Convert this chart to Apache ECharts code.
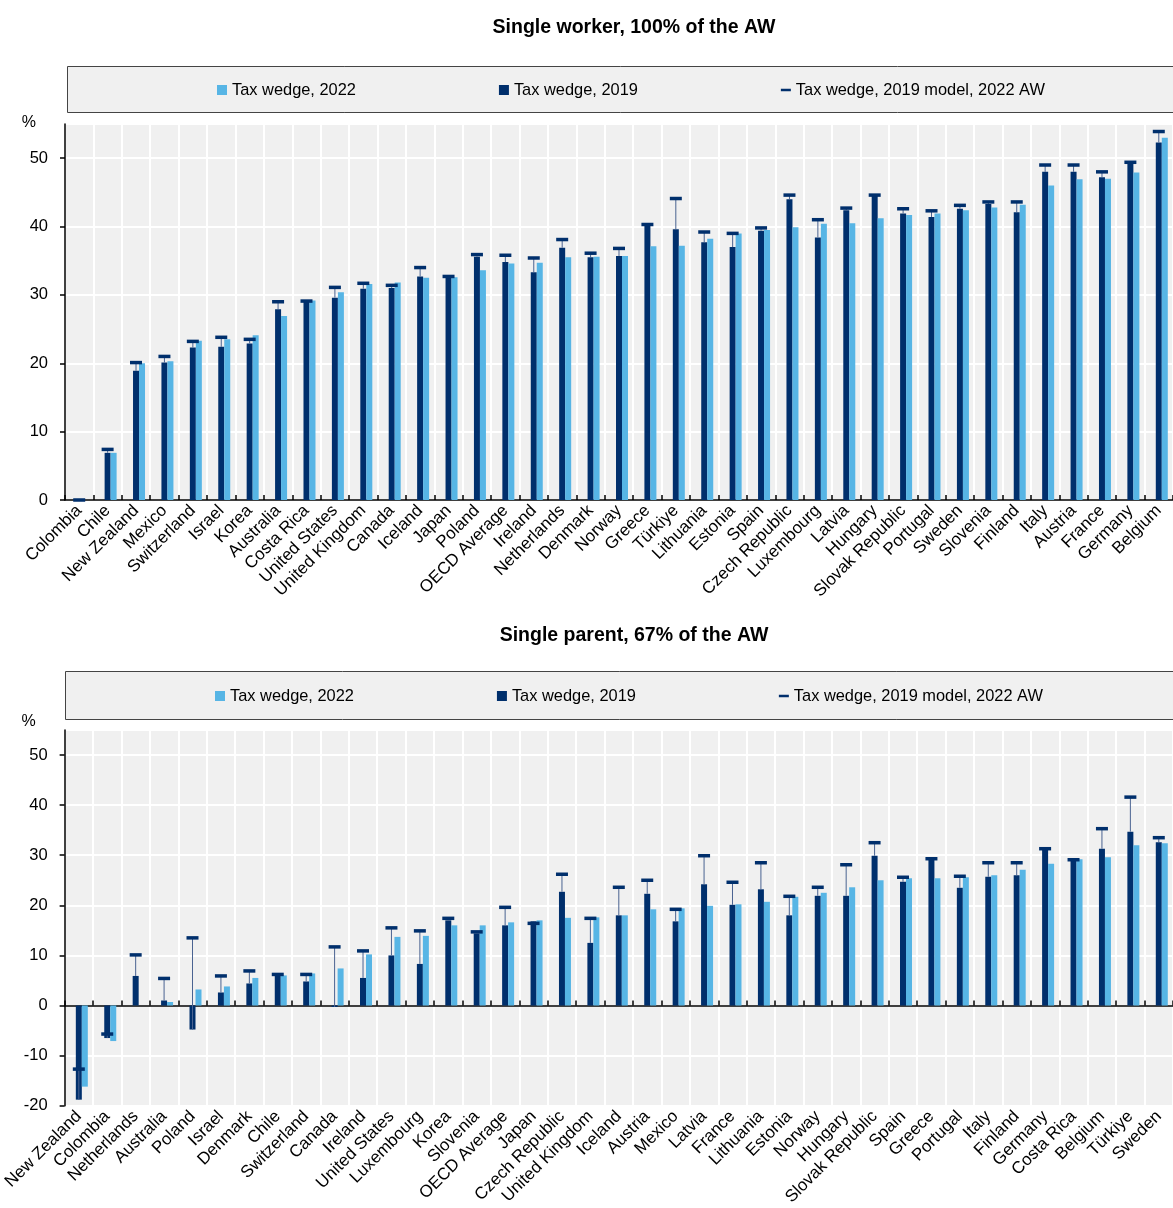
<!DOCTYPE html>
<html>
<head>
<meta charset="utf-8">
<script src="https://cdn.jsdelivr.net/npm/echarts@6/dist/echarts.min.js"></script>
<style>
  html, body { margin: 0; padding: 0; background: #fff; }
  #main { width: 1173px; height: 1208px; }
</style>
</head>
<body>
<div id="main"></div>
<script>
// panel 1 : single worker, 100% of the AW
var countries1 = ['Colombia','Chile','New Zealand','Mexico','Switzerland','Israel','Korea','Australia','Costa Rica','United States','United Kingdom','Canada','Iceland','Japan','Poland','OECD Average','Ireland','Netherlands','Denmark','Norway','Greece','Türkiye','Lithuania','Estonia','Spain','Czech Republic','Luxembourg','Latvia','Hungary','Slovak Republic','Portugal','Sweden','Slovenia','Finland','Italy','Austria','France','Germany','Belgium'];
var tw2022_1 = [0, 6.9, 20.0, 20.3, 23.3, 23.5, 24.1, 26.9, 29.2, 30.4, 31.6, 31.8, 32.5, 32.6, 33.6, 34.6, 34.7, 35.5, 35.6, 35.7, 37.1, 37.2, 38.2, 39.0, 39.5, 39.9, 40.4, 40.5, 41.2, 41.7, 41.9, 42.4, 42.8, 43.2, 46.0, 46.9, 47.0, 47.9, 53.0];
var tw2019_1 = [0, 6.9, 18.9, 20.1, 22.3, 22.4, 22.9, 27.9, 29.1, 29.6, 30.9, 31.0, 32.7, 32.6, 35.6, 34.8, 33.3, 36.9, 35.5, 35.7, 40.3, 39.6, 37.7, 37.0, 39.4, 44.0, 38.4, 42.4, 44.5, 41.9, 41.4, 42.6, 43.3, 42.1, 48.0, 48.0, 47.2, 49.3, 52.3];
var model_1 = [0, 7.4, 20.1, 21.0, 23.2, 23.8, 23.5, 29.0, 29.1, 31.1, 31.7, 31.4, 34.0, 32.7, 35.9, 35.8, 35.4, 38.1, 36.1, 36.8, 40.3, 44.1, 39.2, 39.0, 39.8, 44.6, 41.0, 42.7, 44.6, 42.6, 42.3, 43.1, 43.6, 43.6, 49.0, 49.0, 48.0, 49.4, 53.9];
var yTicks1 = [0, 10, 20, 30, 40, 50];

// panel 2 : single parent, 67% of the AW
var countries2 = ['New Zealand','Colombia','Netherlands','Australia','Poland','Israel','Denmark','Chile','Switzerland','Canada','Ireland','United States','Luxembourg','Korea','Slovenia','OECD Average','Japan','Czech Republic','United Kingdom','Iceland','Austria','Mexico','Latvia','France','Lithuania','Estonia','Norway','Hungary','Slovak Republic','Spain','Greece','Portugal','Italy','Finland','Germany','Costa Rica','Belgium','Türkiye','Sweden'];
var tw2022_2 = [-16.2, -7.1, 0, 0.7, 3.2, 3.8, 5.5, 6.0, 6.4, 7.4, 10.2, 13.7, 13.9, 16.0, 16.0, 16.6, 17.0, 17.5, 17.6, 18.0, 19.2, 19.4, 19.9, 20.2, 20.7, 21.7, 22.5, 23.6, 25.0, 25.4, 25.4, 25.6, 26.0, 27.1, 28.3, 29.2, 29.6, 32.0, 32.4];
var tw2019_2 = [-18.8, -6.5, 5.9, 1.0, -4.8, 2.6, 4.4, 6.2, 4.8, -0.3, 5.5, 10.0, 8.3, 17.0, 14.4, 16.0, 16.8, 22.7, 12.5, 18.0, 22.3, 16.8, 24.2, 20.1, 23.2, 18.0, 21.9, 21.9, 29.9, 24.7, 29.3, 23.5, 25.7, 26.0, 31.2, 28.9, 31.3, 34.7, 32.6];
var model_2 = [-12.7, -5.7, 10.1, 5.4, 13.5, 5.9, 6.9, 6.2, 6.2, 11.7, 10.9, 15.5, 14.9, 17.4, 14.7, 19.6, 16.4, 26.2, 17.4, 23.6, 25.0, 19.2, 29.9, 24.6, 28.5, 21.8, 23.6, 28.1, 32.5, 25.6, 29.3, 25.8, 28.5, 28.5, 31.3, 29.1, 35.3, 41.6, 33.5];

var DARK = '#002F6C';
var LIGHT = '#57B5E5';
var SANS = "'Liberation Sans', Arial, sans-serif";
var NAME22 = 'Tax wedge, 2022', NAME19 = 'Tax wedge, 2019', NAMEM = 'Tax wedge, 2019 model, 2022 AW';

function renderModel(params, api) {
  var top = api.coord([api.value(0), api.value(1)]);
  var base = api.coord([api.value(0), api.value(2)]);
  return {
    type: 'group',
    children: [
      { type: 'line', shape: { x1: top[0], y1: base[1], x2: top[0], y2: top[1] },
        style: { stroke: '#4a6391', lineWidth: 1 } },
      { type: 'rect', shape: { x: top[0] - 6, y: top[1] - 1.75, width: 12, height: 3.5 },
        style: { fill: DARK } }
    ]
  };
}

function panelSeries(gi, xi, v22, v19, vm) {
  return [
    // empty slot so that the 2019 bar sits on the category centre
    { type: 'bar', name: '_slot', xAxisIndex: xi, yAxisIndex: gi, data: [], barWidth: 6, barGap: '0%' },
    { type: 'bar', name: NAME19, xAxisIndex: xi, yAxisIndex: gi, data: v19, barWidth: 6, barGap: '0%',
      itemStyle: { color: DARK } },
    { type: 'bar', name: NAME22, xAxisIndex: xi, yAxisIndex: gi, data: v22, barWidth: 6, barGap: '0%',
      itemStyle: { color: LIGHT } },
    { type: 'custom', name: NAMEM, xAxisIndex: xi, yAxisIndex: gi, z: 5,
      itemStyle: { color: DARK },
      data: vm.map(function (v, i) { return [i, v, v19[i]]; }),
      encode: { x: 0, y: 1 },
      renderItem: renderModel }
  ];
}

function legendOf(top, left) {
  return {
    top: top, left: left, itemGap: 143, itemWidth: 10, itemHeight: 10,
    textStyle: { fontFamily: SANS, fontSize: 16.4, color: '#000' },
    selectedMode: false,
    data: [
      { name: NAME22, icon: 'rect' },
      { name: NAME19, icon: 'rect' },
      { name: NAMEM, icon: 'path://M0,0H12V3H0Z' }
    ]
  };
}

function catAxis(gi, cats, showLabels, showLine) {
  return {
    type: 'category', gridIndex: gi, data: cats, position: 'bottom',
    axisLine: { show: showLine, onZero: showLine, lineStyle: { color: '#000', width: 1.5 } },
    axisTick: { show: showLine, inside: true, length: 5, lineStyle: { color: '#000', width: 1.5 } },
    axisLabel: { show: showLabels, rotate: 45, interval: 0, margin: 8,
      fontFamily: SANS, fontSize: 17, color: '#000' },
    splitLine: { show: showLabels, interval: 0, lineStyle: { color: '#fff', width: 2 } }
  };
}

function valAxis(gi, min, max, nameGap) {
  return {
    type: 'value', gridIndex: gi, min: min, max: max, interval: 10,
    name: '%', nameLocation: 'end', nameGap: nameGap,
    nameTextStyle: { fontFamily: SANS, fontSize: 16, color: '#000', align: 'right',
      verticalAlign: 'middle', padding: [0, 29, 0, 0] },
    axisLine: { show: true, lineStyle: { color: '#000', width: 1.5 } },
    axisTick: { show: true, length: 5, lineStyle: { color: '#000', width: 1.5 } },
    axisLabel: { fontFamily: SANS, fontSize: 16.5, color: '#000', margin: 17, showMaxLabel: false },
    splitLine: { show: true, lineStyle: { color: '#fff', width: 2 } }
  };
}

var chart = echarts.init(document.getElementById('main'), null, { renderer: 'canvas' });

var option = {
  animation: false,
  backgroundColor: '#fff',
  title: [
    { text: 'Single worker, 100% of the AW', left: 629, top: 13, textAlign: 'center',
      textStyle: { fontFamily: SANS, fontSize: 19.5, fontWeight: 'bold', color: '#000' } },
    { text: 'Single parent, 67% of the AW', left: 629, top: 621, textAlign: 'center',
      textStyle: { fontFamily: SANS, fontSize: 19.5, fontWeight: 'bold', color: '#000' } }
  ],
  graphic: [
    { type: 'rect', z: -1, shape: { x: 67.5, y: 66.5, width: 1120, height: 46 },
      style: { fill: '#f0f0f0', stroke: '#444', lineWidth: 1 } },
    { type: 'rect', z: -1, shape: { x: 65.5, y: 671.5, width: 1120, height: 48 },
      style: { fill: '#f0f0f0', stroke: '#444', lineWidth: 1 } }
  ],
  legend: [legendOf(77, 212), legendOf(683, 210)],
  grid: [
    { left: 65, top: 124, right: -11, bottom: 708, show: true, backgroundColor: '#f0f0f0', borderWidth: 0 },
    { left: 64, top: 730, right: -10, bottom: 99, show: true, backgroundColor: '#f0f0f0', borderWidth: 0 }
  ],
  xAxis: [
    catAxis(0, countries1, true, true),
    catAxis(1, countries2, true, false),
    catAxis(1, countries2, false, true)
  ],
  yAxis: [
    valAxis(0, yTicks1[0], 55, 1),
    valAxis(1, -20, 55, 8)
  ],
  series: panelSeries(0, 0, tw2022_1, tw2019_1, model_1)
    .concat(panelSeries(1, 2, tw2022_2, tw2019_2, model_2))
};

chart.setOption(option);
</script>
</body>
</html>
